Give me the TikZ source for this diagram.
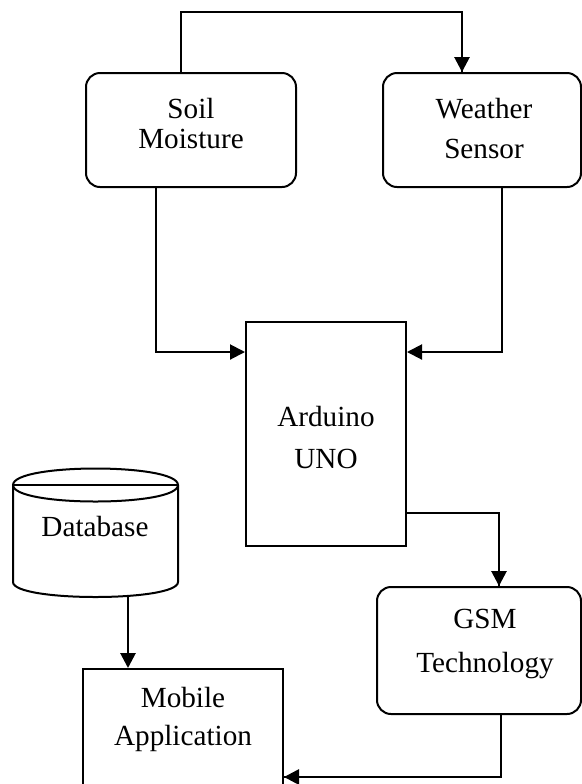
\documentclass[tikz,border=0pt]{standalone}
\usepackage{fontspec}
\setmainfont{Liberation Serif}
\usetikzlibrary{arrows.meta,calc}
\begin{document}
\begin{tikzpicture}[x=0.5pt,y=-0.5pt,
  rbox/.style={draw,line width=1pt,rounded corners=7pt,inner sep=0},
  sbox/.style={draw,line width=1pt,inner sep=0},
  ghost/.style={inner sep=0},
  lbl/.style={font=\fontsize{14.6}{16}\selectfont,anchor=base,inner sep=0},
  wire/.style={line width=1pt,line join=miter},
  wirethick/.style={line width=1.4pt},
  tip/.style={-{Triangle[length=7.5pt,width=7.5pt]}}
]
\useasboundingbox (0,0) rectangle (582,784);
\clip (0,0) rectangle (582,784);

% boxes
\node[rbox,minimum width=105pt,minimum height=57pt] (soil) at (191,130) {};
\node[rbox,minimum width=99pt,minimum height=57pt] (weather) at (482,130) {};
\node[sbox,minimum width=80pt,minimum height=112pt] (arduino) at (326,434) {};
\node[rbox,minimum width=102pt,minimum height=63.5pt] (gsm) at (479,650.5) {};
\node[sbox,minimum width=100pt,minimum height=80pt] (mobile) at (183,749) {};
\node[ghost,minimum width=82.5pt,minimum height=64pt] (db) at (95.5,533) {};

% database cylinder
\draw[line width=1pt] (13,485) .. controls (13,463) and (178,463) .. (178,485)
  .. controls (178,507) and (13,507) .. (13,485) -- cycle;
\draw[line width=1pt] (13,485) -- (178,485);
\draw[line width=1pt] (13,485) -- (13,582) .. controls (13,602) and (178,602) .. (178,582) -- (178,485);

% labels
\node[lbl] (soilA) at (191,118) {Soil};
\node[lbl] (soilB) at (191,148) {Moisture};
\node[lbl] (weaA) at (484,118) {Weather};
\node[lbl] (weaB) at (484,158) {Sensor};
\node[lbl] (ardA) at (326,426) {Arduino};
\node[lbl] (ardB) at (326,468) {UNO};
\node[lbl] (dbA) at (95,536) {Database};
\node[lbl] (gsmA) at (485,628) {GSM};
\node[lbl] (gsmB) at (485,672) {Technology};
\node[lbl] (mobA) at (183,707) {Mobile};
\node[lbl] (mobB) at (183,745) {Application};

% connector coordinates
\coordinate (t1) at (181,12);
\coordinate (t2) at (462,12);
\coordinate (s1) at (156,352);
\coordinate (w1) at (502,352);
\coordinate (a1) at (499,513);
\coordinate (d1) at (128,0);
\coordinate (g1) at (501,777);

% connectors
\draw[wire] (soil.north -| t1) -- (t1) -- (t2) -- (weather.north -| t2);
\draw[wirethick,tip] (t2) -- (weather.north -| t2);

\draw[wire,tip] (soil.south -| s1) -- (s1) -- (arduino.west |- s1);
\draw[wire,tip] (weather.south -| w1) -- (w1) -- (arduino.east |- w1);

\draw[wire] (arduino.east |- a1) -- (a1) -- (gsm.north -| a1);
\draw[wirethick,tip] (a1) -- (gsm.north -| a1);

\draw[wirethick,tip] (db.south -| d1) -- (mobile.north -| d1);

\draw[wire] (gsm.south -| g1) -- (g1) -- (mobile.east |- g1);
\draw[wirethick,tip] (g1) -- (mobile.east |- g1);
\end{tikzpicture}
\end{document}
